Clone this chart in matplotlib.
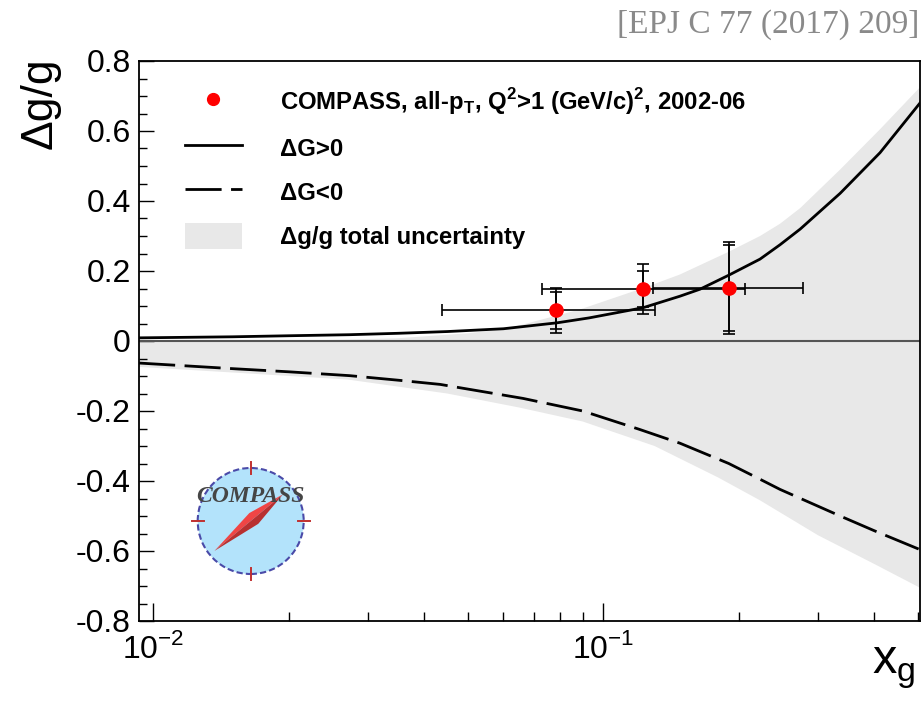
import numpy as np
import matplotlib
matplotlib.use("Agg")
import matplotlib.pyplot as plt
from matplotlib.lines import Line2D
from matplotlib.patches import Patch, Circle, Polygon
from matplotlib.ticker import LogLocator, FixedLocator, FixedFormatter, MultipleLocator, NullFormatter

plt.rcParams['font.family'] = ['Liberation Sans', 'DejaVu Sans']
plt.rcParams['mathtext.fontset'] = 'custom'
plt.rcParams['mathtext.rm'] = 'Liberation Sans'
plt.rcParams['mathtext.bf'] = 'Liberation Sans:bold'

# COMPASS points (x_g, dg/g) with asymmetric x ranges, stat and total errors
xg = [0.0787, 0.1225, 0.190]
dgg = [0.0877, 0.148, 0.151]
xg_lo = [0.0439, 0.0729, 0.129]
xg_hi = [0.130, 0.206, 0.278]
err_stat = [0.052, 0.052, 0.122]
err_tot = [0.064, 0.071, 0.131]

# dG>0 curve
pos_x = [0.0093, 0.015, 0.02, 0.0273, 0.035, 0.045, 0.06, 0.079, 0.093, 0.1225,
         0.148, 0.164, 0.19, 0.223, 0.247, 0.274, 0.336, 0.412, 0.5055]
pos_y = [0.009, 0.012, 0.015, 0.018, 0.022, 0.027, 0.035, 0.052, 0.066, 0.095,
         0.128, 0.148, 0.188, 0.234, 0.275, 0.32, 0.422, 0.538, 0.68]

# dG<0 curve
neg_x = [0.0093, 0.015, 0.02, 0.0273, 0.035, 0.0434, 0.0663, 0.09, 0.12, 0.148,
         0.19, 0.223, 0.247, 0.3, 0.336, 0.4, 0.5055]
neg_y = [-0.063, -0.079, -0.088, -0.099, -0.112, -0.124, -0.164, -0.2, -0.252, -0.292,
         -0.350, -0.395, -0.424, -0.472, -0.500, -0.542, -0.596]

# total uncertainty band
band_up_x = [0.0093, 0.02, 0.035, 0.05, 0.061, 0.0887, 0.125, 0.148, 0.19, 0.223, 0.247,
             0.274, 0.336, 0.412, 0.5055]
band_up_y = [0.0, 0.0, 0.008, 0.022, 0.035, 0.09, 0.155, 0.19, 0.255, 0.30, 0.335,
             0.38, 0.49, 0.605, 0.725]
band_lo_x = [0.0093, 0.015, 0.027, 0.045, 0.065, 0.09, 0.13, 0.18, 0.2228, 0.3, 0.4, 0.5055]
band_lo_y = [-0.074, -0.09, -0.11, -0.15, -0.19, -0.23, -0.30, -0.39, -0.455, -0.555, -0.637, -0.705]

W, H = 924, 708
fig = plt.figure(figsize=(W / 100, H / 100), dpi=100)
ax = fig.add_axes([139.3 / W, 1 - 621 / H, (920 - 139.3) / W, (621 - 61) / H])

# band
bx = np.concatenate([band_up_x, band_lo_x[::-1]])
by = np.concatenate([band_up_y, band_lo_y[::-1]])
ax.fill(bx, by, facecolor='#e8e8e8', edgecolor='none', zorder=1)

ax.axhline(0, color='#555555', lw=1.5, zorder=2)

ax.plot(pos_x, pos_y, color='black', lw=2.0, zorder=3)
ax.plot(neg_x, neg_y, color='black', lw=2.0, dashes=(13, 3.4), zorder=3)

xg_a = np.array(xg)
xerr = [xg_a - np.array(xg_lo), np.array(xg_hi) - xg_a]
ax.errorbar(xg, dgg, xerr=xerr, yerr=err_tot, fmt='none', ecolor='black',
            elinewidth=1.2, capsize=4.5, capthick=1.2, zorder=4)
ax.errorbar(xg, dgg, yerr=err_stat, fmt='none', ecolor='black',
            elinewidth=1.2, capsize=4.5, capthick=1.2, zorder=4)
ax.plot(xg, dgg, 'o', color='red', ms=9.5, mec='red', zorder=5)

ax.set_xscale('log')
ax.set_xlim(0.00931, 0.5055)
ax.set_ylim(-0.8, 0.8)

ax.xaxis.set_major_locator(FixedLocator([0.01, 0.1]))
ax.xaxis.set_major_formatter(FixedFormatter([r'$10^{-2}$', r'$10^{-1}$']))
ax.xaxis.set_minor_locator(LogLocator(base=10, subs=np.arange(2, 10)))
ax.xaxis.set_minor_formatter(NullFormatter())
ax.yaxis.set_major_locator(MultipleLocator(0.2))
ax.yaxis.set_minor_locator(MultipleLocator(0.05))
ax.yaxis.set_major_formatter(plt.FuncFormatter(lambda v, p: '0' if abs(v) < 1e-9 else f'{v:.1f}'))

ax.tick_params(which='both', direction='in', top=False, right=False, labelsize=23, width=1.0)
ax.tick_params(axis='y', which='major', length=11, pad=6)
ax.tick_params(axis='y', which='minor', length=5.5)
ax.tick_params(axis='x', which='major', length=13, pad=9)
ax.tick_params(axis='x', which='minor', length=6.5)
for s in ax.spines.values():
    s.set_linewidth(1.3)

fig.text(40 / W, 1 - 57 / H, 'Δg/g', rotation=90, ha='center', va='top', fontsize=32)
fig.text(916 / W, 1 - 646 / H, r'x$_{\mathrm{g}}$', ha='right', va='top', fontsize=35)
fig.text(919 / W, 1 - 9 / H, '[EPJ C 77 (2017) 209]', ha='right', va='top',
         fontsize=24, color='#8a8a8a', family='Liberation Serif')

handles = [
    Line2D([], [], ls='none', marker='o', color='red', ms=8.5),
    Line2D([], [], color='black', lw=2.0),
    Line2D([], [], color='black', lw=2.0, dashes=(13, 3.4)),
    Patch(facecolor='#e8e8e8', edgecolor='none'),
]
labels = [
    r'COMPASS, all-p$_{\mathbf{T}}$, Q$^{\mathbf{2}}$>1 (GeV/c)$^{\mathbf{2}}$, 2002-06',
    'ΔG>0',
    'ΔG<0',
    'Δg/g total uncertainty',
]
leg = ax.legend(handles, labels, loc='upper left', bbox_to_anchor=(185 / W, 1 - 86 / H),
                bbox_transform=fig.transFigure, frameon=False, borderpad=0, borderaxespad=0,
                handlelength=2.38, handletextpad=1.59, labelspacing=0.75,
                handleheight=1.3, prop={'weight': 'bold', 'size': 17.2})

# COMPASS logo
lax = fig.add_axes([(250.7 - 62) / W, 1 - (521 + 62) / H, 124 / W, 124 / H])
lax.set_xlim(-62, 62)
lax.set_ylim(-62, 62)
lax.set_aspect('equal')
lax.axis('off')
lax.add_patch(Circle((0, 0), 53, facecolor='#b3e3fb', edgecolor='#4a4aa8', lw=1.5, ls=(0, (3, 1.5))))
for dx, dy in [(0, 1), (0, -1), (1, 0), (-1, 0)]:
    lax.plot([dx * 47, dx * 59], [dy * 47, dy * 59], color='#c03030', lw=1.4)
d = np.array([0.771, 0.637])
p = np.array([-0.637, 0.771])
tip_ne = d * 42
tip_sw = -d * 47
c = d * 4
lax.add_patch(Polygon([tip_ne, c + 7 * p, tip_sw], closed=True, facecolor='#f04545', edgecolor='none'))
lax.add_patch(Polygon([tip_ne, c - 7 * p, tip_sw], closed=True, facecolor='#b83030', edgecolor='none'))
lax.text(0, 24, 'COMPASS', ha='center', va='center', fontsize=17, color='#454545',
         family='Liberation Serif', weight='bold', style='italic')

fig.savefig('out.png', dpi=100)
